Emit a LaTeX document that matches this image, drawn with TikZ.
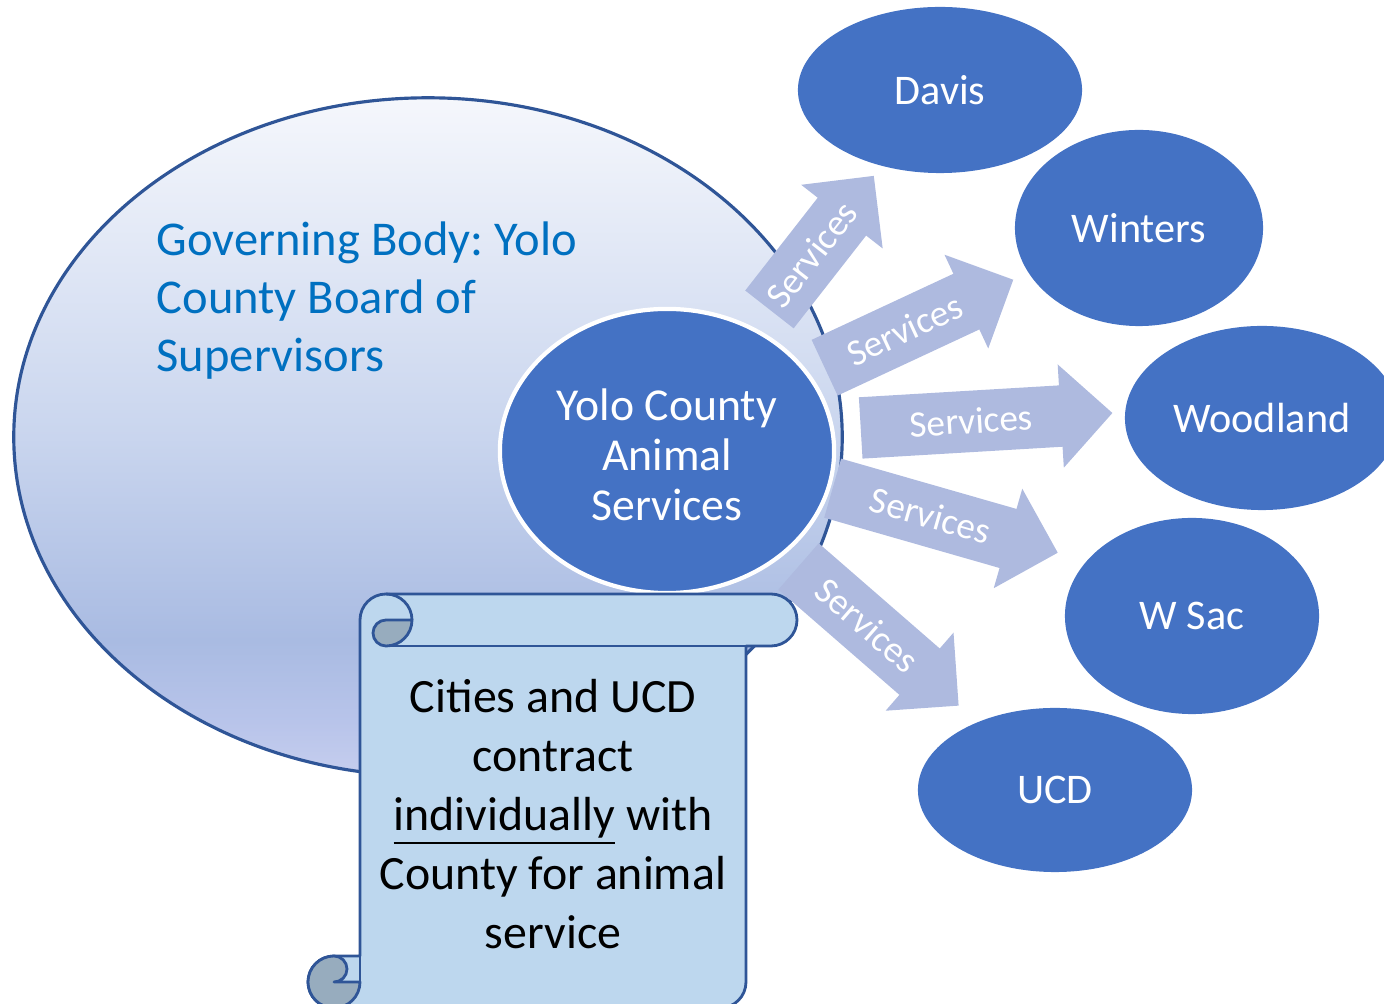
\documentclass[tikz,border=0pt]{standalone}
\usepackage{fontspec}
\setmainfont{Carlito}
\usetikzlibrary{shapes.geometric,shapes.arrows}
\definecolor{cityblue}{HTML}{4472C4}
\definecolor{svcfill}{HTML}{AEBADF}
\definecolor{lineblue}{HTML}{2F5597}
\definecolor{titleblue}{HTML}{0070C0}
\definecolor{scrollfill}{HTML}{BDD7EE}
\definecolor{curlfill}{HTML}{97ACBE}
\definecolor{govtop}{HTML}{F5F7FC}
\definecolor{govmid}{HTML}{C9D5EE}
\definecolor{govdeep}{HTML}{A9BBE2}
\definecolor{govlow}{HTML}{B8C4EA}
\definecolor{govbot}{HTML}{C6CEEE}
\pgfdeclareverticalshading{govshade}{100bp}{color(0bp)=(govbot); color(25bp)=(govbot); color(29bp)=(govlow); color(35bp)=(govdeep); color(50bp)=(govmid); color(75bp)=(govtop); color(100bp)=(govtop)}
\frenchspacing
\begin{document}
\begin{tikzpicture}[x=0.01cm, y=-0.01cm,
  city/.style={ellipse, fill=cityblue, text=white, inner sep=0pt, font=\fontsize{12}{14}\selectfont},
  svc/.style={single arrow, fill=svcfill, text=white, anchor=tail, single arrow head extend=0.21cm,
    inner xsep=2pt, inner ysep=0.18cm, text height=0.24cm, text depth=0pt, font=\fontsize{10.6}{12}\selectfont},
  scrollline/.style={draw=lineblue, line width=0.8pt, line join=round}]
\useasboundingbox (0,0) rectangle (1384,1004);
% governing body
\node[ellipse, draw=lineblue, line width=0.9pt, shading=govshade, minimum width=8.28cm, minimum height=6.78cm] (gov) at (428,437) {};
\node[anchor=base west, align=left, inner sep=0pt, text=titleblue, font=\fontsize{13.8}{16.5}\selectfont] (govtitle) at (156,372) {Governing Body: Yolo\\County Board of\\Supervisors};
% service arrows
\node[svc, rotate=52, minimum height=1.60cm] (s1) at (769,310) {Services};
\node[svc, rotate=25, minimum height=2.08cm] (s2) at (824,368) {Services};
\node[svc, rotate=3.4, minimum height=2.52cm] (s3) at (860,428) {Services};
\node[svc, rotate=-16, minimum height=2.34cm] (s4) at (832,488) {Services};
\node[svc, rotate=-41, minimum height=2.12cm] (s5) at (798,566) {Services};
% animal services
\node[ellipse, fill=cityblue, draw=white, line width=1.2pt, text=white, inner sep=0pt, align=center,
  minimum width=3.34cm, minimum height=2.84cm, font=\fontsize{13}{14.2}\selectfont] (yolo) at (667,451) {};
\node[align=center, text=white, font=\fontsize{13}{14.2}\selectfont] (yolotext) at (667,455) {Yolo County\\Animal\\Services};
% cities
\node[city, minimum width=2.84cm, minimum height=1.66cm] (davis) at (940,90) {Davis};
\node[city, minimum width=2.48cm, minimum height=1.96cm] (winters) at (1139,228) {Winters};
\node[city, minimum width=2.74cm, minimum height=1.84cm] (woodland) at (1262,418) {Woodland};
\node[city, minimum width=2.54cm, minimum height=1.96cm] (wsac) at (1192,616) {W Sac};
\node[city, minimum width=2.74cm, minimum height=1.64cm] (ucd) at (1055,790) {UCD};
% scroll
\path[scrollline, fill=scrollfill] (386,594) -- (771,594) arc[start angle=-90, end angle=90, radius=26]
  -- (746,646) -- (746,982) arc[start angle=0, end angle=90, radius=26]
  -- (334,1008) arc[start angle=90, end angle=270, radius=26]
  -- (360,956) -- (360,620) arc[start angle=180, end angle=270, radius=26] -- cycle;
\draw[scrollline] (360,956) -- (360,982);
\path[scrollline, fill=curlfill] (334,982) -- (360,982) arc[start angle=0, end angle=270, radius=26]
  arc[start angle=-90, end angle=90, radius=13] -- cycle;
\path[scrollline, fill=curlfill] (386,620) -- (412,620) arc[start angle=0, end angle=90, radius=26]
  arc[start angle=90, end angle=270, radius=13] -- cycle;
\draw[scrollline] (386,594) arc[start angle=-90, end angle=0, radius=26];
\draw[scrollline] (386,646) -- (746,646);
\node[align=center, font=\fontsize{13.6}{16.8}\selectfont] (contract) at (553,814) {Cities and UCD\\contract\\\underline{individually} with\\County for animal\\service};
\end{tikzpicture}
\end{document}
